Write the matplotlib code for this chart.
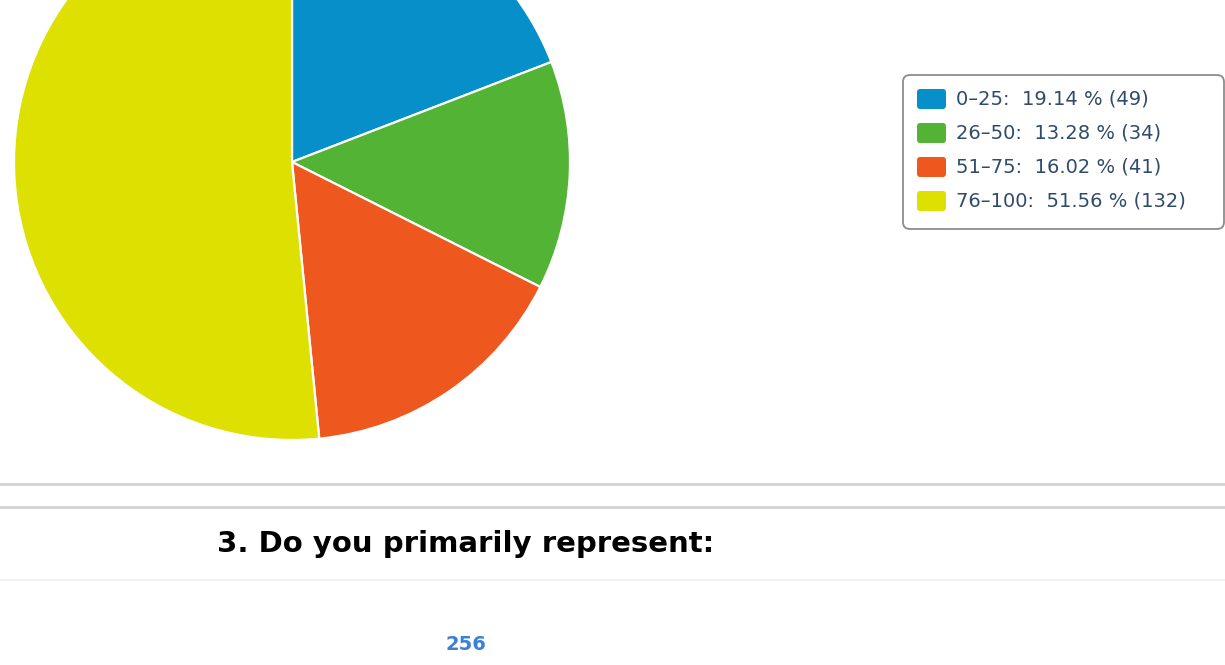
import matplotlib.pyplot as plt
from matplotlib.patches import FancyBboxPatch

categories = ['0\u201325', '26\u201350', '51\u201375', '76\u2013100']
counts = [49, 34, 41, 132]
percents = [19.14, 13.28, 16.02, 51.56]
colors = ['#068fc8', '#52b334', '#ee581e', '#dde000']
total = 256
next_title = '3. Do you primarily represent:'

W, H = 1225, 665
fig = plt.figure(figsize=(W / 100, H / 100), dpi=100)
ax = fig.add_axes([0, 0, 1, 1])

# pie, top part cut off by the figure edge
ax.pie(counts, colors=colors, startangle=90, counterclock=False,
       center=(292, H - 162), radius=278,
       wedgeprops=dict(edgecolor='white', linewidth=1.6))
ax.set_xlim(0, W)
ax.set_ylim(0, H)
ax.set_aspect('auto')
ax.axis('off')

# legend drawn by hand
ax.add_patch(FancyBboxPatch((903, H - 229), 321, 154,
                            boxstyle='round,pad=0,rounding_size=7',
                            facecolor='white', edgecolor='#8c8c8c', linewidth=1.3))
for i, (c, p, n, col) in enumerate(zip(categories, percents, counts, colors)):
    y = H - (99 + i * 34)
    ax.add_patch(FancyBboxPatch((917, y - 10), 29, 20,
                                boxstyle='round,pad=0,rounding_size=3',
                                facecolor=col, edgecolor='none'))
    ax.text(956, y, f'{c}:  {p:.2f} % ({n})', fontsize=14, color='#2f4b6b',
            va='center', ha='left')

# separators and next question
ax.plot([0, W], [H - 484, H - 484], color='#d2d2d2', lw=2)
ax.plot([0, W], [H - 507, H - 507], color='#d2d2d2', lw=2)
ax.plot([0, W], [H - 580, H - 580], color='#f3f3f3', lw=1.5)
ax.text(466, H - 544, next_title, fontsize=21, fontweight='bold', color='black',
        ha='center', va='center')
ax.text(466, H - 645, str(total), fontsize=14, fontweight='bold', color='#3b80d6',
        ha='center', va='center')

fig.savefig('out.png', dpi=100)
